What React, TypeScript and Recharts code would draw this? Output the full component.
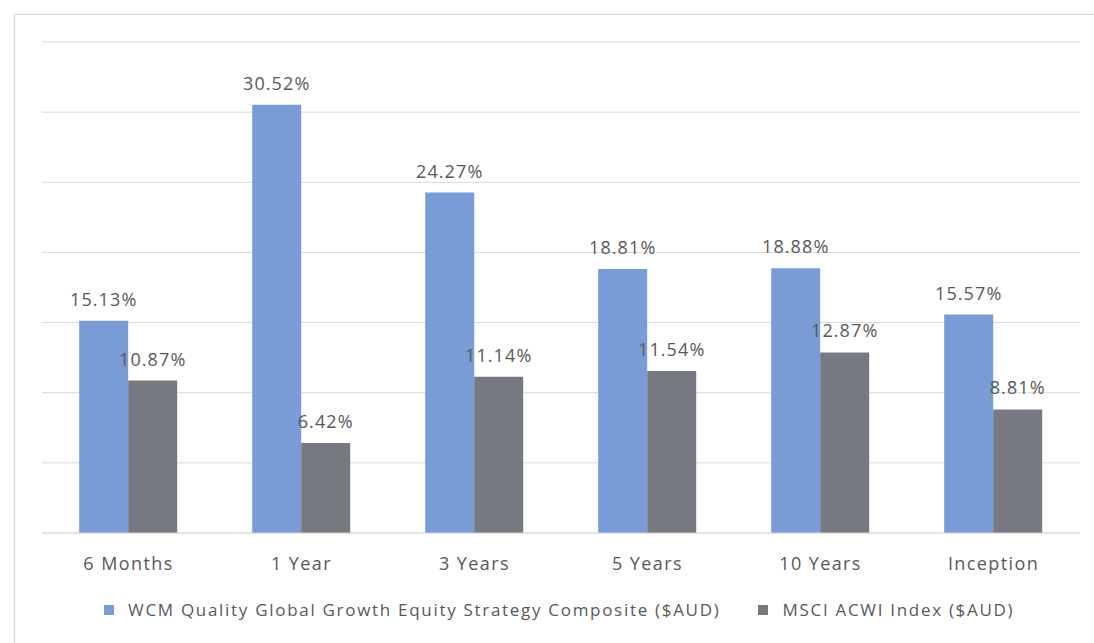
import { BarChart, Bar, XAxis, YAxis, CartesianGrid, LabelList } from 'recharts';

const periods = ['6 Months', '1 Year', '3 Years', '5 Years', '10 Years', 'Inception'];
const wcmReturns = [15.13, 30.52, 24.27, 18.81, 18.88, 15.57];
const msciReturns = [10.87, 6.42, 11.14, 11.54, 12.87, 8.81];
const yTicks = [0, 5, 10, 15, 20, 25, 30, 35];

const seriesNames = [
  'WCM Quality Global Growth Equity Strategy Composite ($AUD)',
  'MSCI ACWI Index ($AUD)',
];

const BLUE = '#7a9cd6';
const GREY = '#767a80';
const TEXT = '#595959';
const FONT = '"Open Sans", sans-serif';

const data = periods.map((p, i) => ({ period: p, wcm: wcmReturns[i], msci: msciReturns[i] }));

const fmt = (v: any) => `${Number(v).toFixed(2)}%`;

const labelStyle = { fill: TEXT, fontSize: 18, fontFamily: FONT, letterSpacing: 1.1 };

export default function App() {
  const colors = [BLUE, GREY];
  return (
    <div style={{ position: 'relative', width: 1094, height: 643, background: '#fff', fontFamily: FONT }}>
      <style>{`body{margin:0}`}</style>
      {/* outer frame, only top and left edges are visible in the crop */}
      <div
        style={{
          position: 'absolute',
          left: 14,
          top: 14,
          right: 0,
          bottom: 0,
          borderTop: '1px solid #d4d4d4',
          borderLeft: '1px solid #d4d4d4',
        }}
      />
      <div style={{ position: 'absolute', left: 0, top: 0 }}>
        <BarChart
          width={1094}
          height={643}
          data={data}
          margin={{ top: 42, right: 14, left: 42, bottom: 50 }}
          barCategoryGap="21.5%"
          barGap={0}
        >
          <CartesianGrid vertical={false} stroke="#d9d9d9" />
          <XAxis
            dataKey="period"
            axisLine={{ stroke: '#d9d9d9' }}
            tickLine={false}
            height={60}
            tickMargin={18}
            tick={{ fill: TEXT, fontSize: 18, fontFamily: FONT, letterSpacing: 1.4 }}
          />
          <YAxis hide domain={[0, 35]} ticks={yTicks} />
          <Bar dataKey="wcm" fill={BLUE} isAnimationActive={false}>
            <LabelList dataKey="wcm" position="top" offset={15} formatter={fmt} style={labelStyle} />
          </Bar>
          <Bar dataKey="msci" fill={GREY} isAnimationActive={false}>
            <LabelList dataKey="msci" position="top" offset={15} formatter={fmt} style={labelStyle} />
          </Bar>
        </BarChart>
      </div>
      <div
        style={{
          position: 'absolute',
          top: 598,
          left: 104,
          display: 'flex',
          color: TEXT,
          fontSize: 17,
          letterSpacing: 1.7,
          whiteSpace: 'nowrap',
        }}
      >
        {seriesNames.map((name, i) => (
          <div key={name} style={{ display: 'flex', alignItems: 'center', marginRight: i === 0 ? 38 : 0 }}>
            <span style={{ width: 10, height: 10, background: colors[i], marginRight: 14, display: 'inline-block' }} />
            <span>{name}</span>
          </div>
        ))}
      </div>
    </div>
  );
}
